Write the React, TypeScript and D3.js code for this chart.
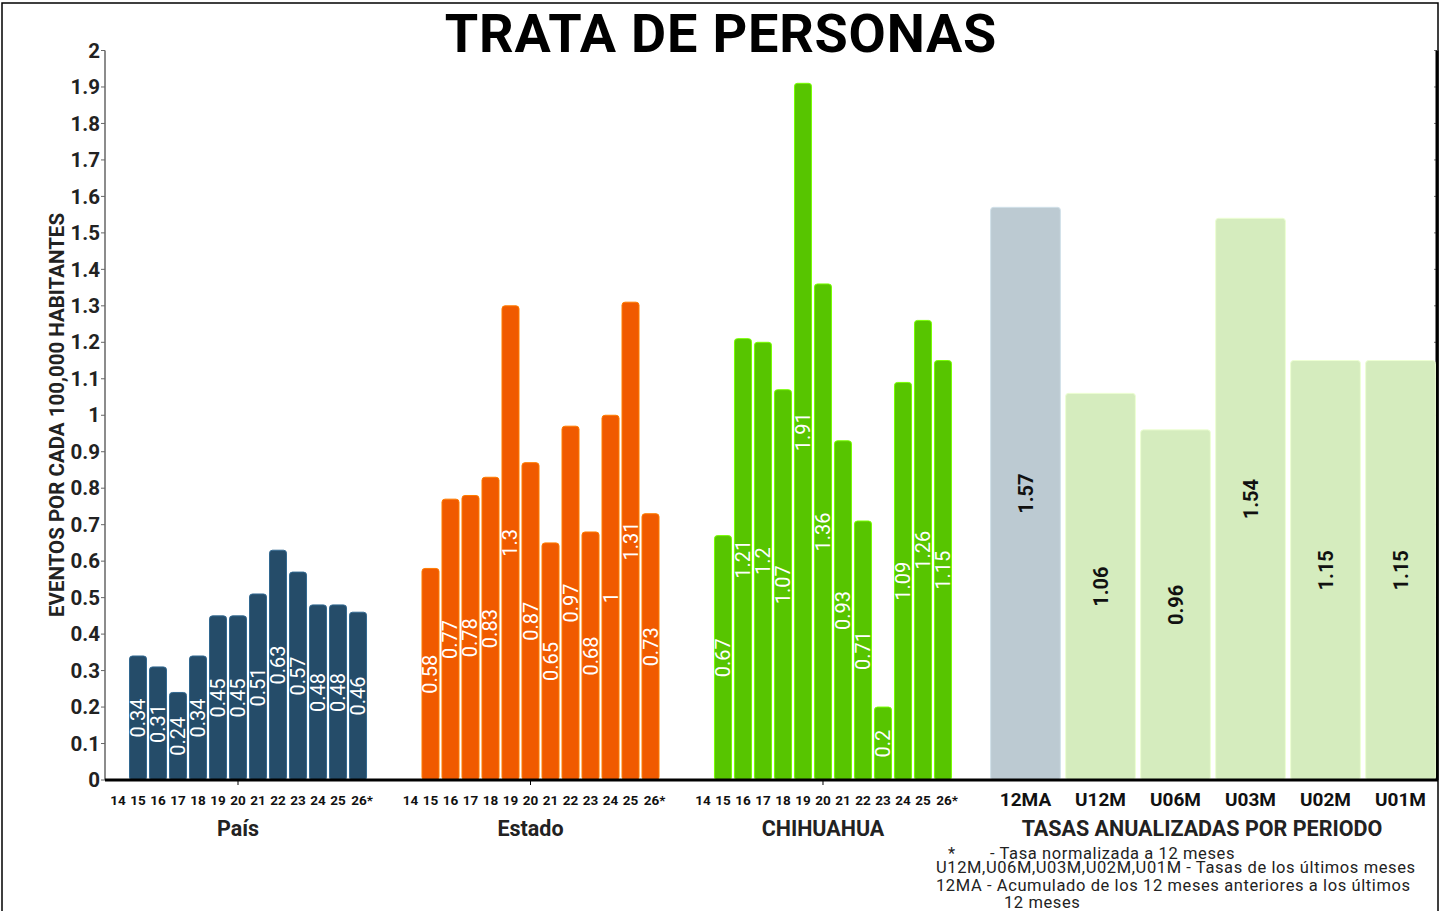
import * as d3 from "d3";

const width = 1445;
const height = 911;

const years = ["14", "15", "16", "17", "18", "19", "20", "21", "22", "23", "24", "25", "26*"];
const paisValues = [null, 0.34, 0.31, 0.24, 0.34, 0.45, 0.45, 0.51, 0.63, 0.57, 0.48, 0.48, 0.46];
const estadoValues = [null, 0.58, 0.77, 0.78, 0.83, 1.3, 0.87, 0.65, 0.97, 0.68, 1, 1.31, 0.73];
const chihuahuaValues = [null, 0.67, 1.21, 1.2, 1.07, 1.91, 1.36, 0.93, 0.71, 0.2, 1.09, 1.26, 1.15];

const groups = ["País", "Estado", "CHIHUAHUA"];
const groupColors = ["#254c69", "#f05a00", "#57c500"];

const periods = ["12MA", "U12M", "U06M", "U03M", "U02M", "U01M"];
const periodValues = [1.57, 1.06, 0.96, 1.54, 1.15, 1.15];
const periodColors = ["#bccad2", "#d5ecbe", "#d5ecbe", "#d5ecbe", "#d5ecbe", "#d5ecbe"];

const yTicks = d3.range(0, 21).map((i) => i / 10);

const font = "Roboto, 'DejaVu Sans', sans-serif";

export default function App() {
  const plotLeft = 105;
  const plotRight = 1438;
  const y = d3.scaleLinear().domain([0, 2]).range([780, 50.5]);

  // outer band for the three yearly groups
  const xGroup = d3.scaleBand().domain(groups).range([108, 953]).paddingInner(0.111);
  const xYear = d3
    .scaleBand()
    .domain(years)
    .range([0, xGroup.bandwidth()])
    .paddingInner(0.15)
    .paddingOuter(0.075);

  const xPeriod = d3
    .scaleBand()
    .domain(periods)
    .range([988, plotRight])
    .paddingInner(0.07)
    .paddingOuter(0.035);

  const series = [paisValues, estadoValues, chihuahuaValues];
  const fmt = (v: number) => String(+v.toFixed(2));

  return (
    <svg
      width={width}
      height={height}
      style={{ position: "absolute", left: 0, top: 0, background: "#fff", fontFamily: font }}
    >
      <rect x={2} y={3} width={1436} height={930} fill="none" stroke="#000" strokeWidth={1.5} />

      <text
        x={721}
        y={52}
        textAnchor="middle"
        fontSize={54}
        fontWeight={700}
        letterSpacing={0.8}
        fill="#000"
      >
        TRATA DE PERSONAS
      </text>

      {/* y axis */}
      <line x1={plotLeft} x2={plotLeft} y1={y(2)} y2={y(0)} stroke="#666" strokeWidth={1.5} />
      {yTicks.map((t) => (
        <g key={t}>
          <line x1={plotLeft - 4} x2={plotLeft} y1={y(t)} y2={y(t)} stroke="#666" />
          <text
            x={plotLeft - 5}
            y={y(t)}
            dy="0.35em"
            textAnchor="end"
            fontSize={20.5}
            fontWeight={700}
            fill="#222"
          >
            {String(+t.toFixed(1))}
          </text>
        </g>
      ))}
      <text
        transform={`translate(64, ${415}) rotate(-90)`}
        textAnchor="middle"
        fontSize={20.5}
        fontWeight={700}
        fill="#222"
      >
        EVENTOS POR CADA 100,000 HABITANTES
      </text>

      {/* right axis */}
      {yTicks.map((t) => (
        <line key={t} x1={plotRight - 4} x2={plotRight} y1={y(t)} y2={y(t)} stroke="#777" />
      ))}
      <line x1={plotRight - 1} x2={plotRight - 1} y1={y(2)} y2={y(0)} stroke="#000" strokeWidth={3} />

      {/* yearly groups */}
      {groups.map((g, gi) => {
        const x0 = xGroup(g) ?? 0;
        const color = groupColors[gi];
        const stroke = d3.color(color)!.brighter(0.9).formatHex();
        return (
          <g key={g}>
            {series[gi].map((v, i) => {
              if (v == null) return null;
              const bx = x0 + (xYear(years[i]) ?? 0);
              const bw = xYear.bandwidth();
              const cy = (y(v) + y(0)) / 2;
              return (
                <g key={i}>
                  <rect
                    x={bx}
                    y={y(v)}
                    width={bw}
                    height={y(0) - y(v)}
                    rx={3}
                    fill={color}
                    stroke={stroke}
                    strokeWidth={1}
                  />
                  <text
                    transform={`translate(${bx + bw / 2}, ${cy}) rotate(-90)`}
                    textAnchor="middle"
                    dy="0.35em"
                    fontSize={20}
                    fill="#fff"
                  >
                    {fmt(v)}
                  </text>
                </g>
              );
            })}
            {years.map((yr) => (
              <text
                key={yr}
                x={x0 + (xYear(yr) ?? 0) + xYear.bandwidth() / 2 + (yr.endsWith("*") ? 4 : 0)}
                y={805}
                textAnchor="middle"
                fontSize={13.5}
                fontWeight={700}
                fill="#111"
              >
                {yr}
              </text>
            ))}
            <line
              x1={x0 + xGroup.bandwidth() / 2}
              x2={x0 + xGroup.bandwidth() / 2}
              y1={y(0)}
              y2={y(0) + 5}
              stroke="#000"
            />
            <text
              x={x0 + xGroup.bandwidth() / 2}
              y={836}
              textAnchor="middle"
              fontSize={21.5}
              fontWeight={700}
              fill="#222"
            >
              {g}
            </text>
          </g>
        );
      })}

      {/* annualised periods */}
      {periods.map((p, i) => {
        const v = periodValues[i];
        const bx = xPeriod(p) ?? 0;
        const bw = xPeriod.bandwidth();
        return (
          <g key={p}>
            <rect
              x={bx}
              y={y(v)}
              width={bw}
              height={y(0) - y(v)}
              rx={3}
              fill={periodColors[i]}
              stroke={d3.color(periodColors[i])!.brighter(0.3).formatHex()}
            />
            <text
              transform={`translate(${bx + bw / 2}, ${(y(v) + y(0)) / 2}) rotate(-90)`}
              textAnchor="middle"
              dy="0.35em"
              fontSize={20}
              fontWeight={700}
              fill="#111"
            >
              {fmt(v)}
            </text>
            <text
              x={bx + bw / 2}
              y={806}
              textAnchor="middle"
              fontSize={19}
              fontWeight={700}
              fill="#111"
            >
              {p}
            </text>
          </g>
        );
      })}
      <text x={1202} y={836} textAnchor="middle" fontSize={21.5} fontWeight={700} fill="#222">
        TASAS ANUALIZADAS POR PERIODO
      </text>

      {/* baseline */}
      <line x1={plotLeft} x2={plotRight} y1={y(0)} y2={y(0)} stroke="#000" strokeWidth={3} />

      {/* notes */}
      <g fontSize={16.5} letterSpacing={0.6} fill="#222" style={{ whiteSpace: "pre" }}>
        <text x={948} y={859}>*</text>
        <text x={990} y={859}>- Tasa normalizada a 12 meses</text>
        <text x={936} y={873}>U12M,U06M,U03M,U02M,U01M - Tasas de los últimos meses</text>
        <text x={936} y={891}>12MA  - Acumulado de los 12 meses anteriores a los últimos</text>
        <text x={1004} y={908}>12 meses</text>
      </g>
    </svg>
  );
}
